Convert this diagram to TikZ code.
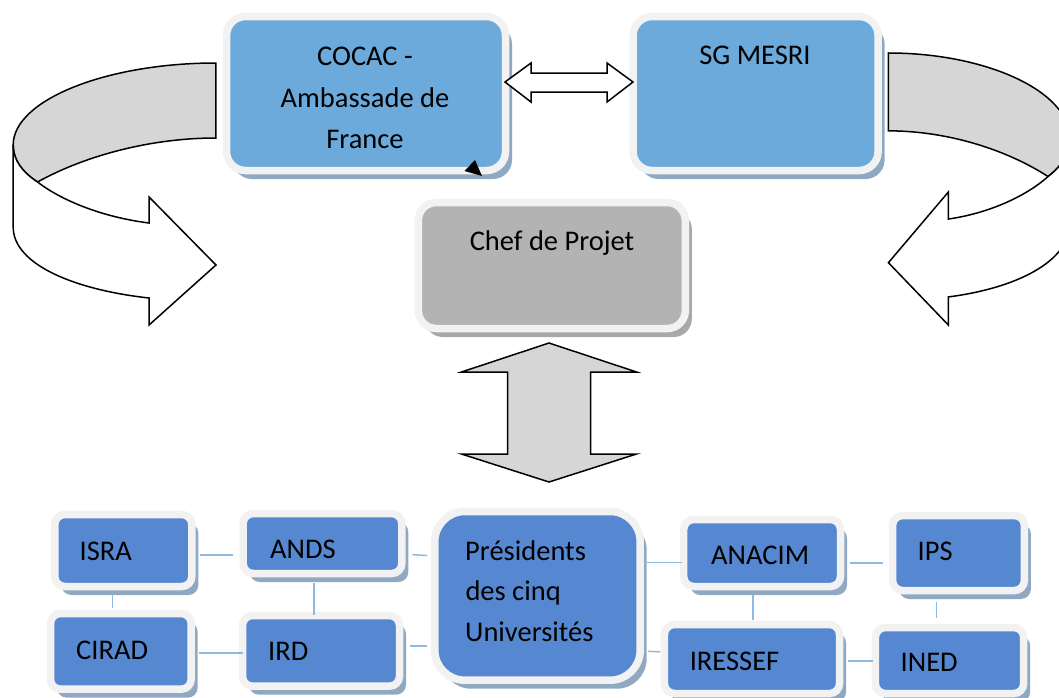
\documentclass[tikz,border=0pt]{standalone}
\usepackage{fontspec}
\setmainfont{Carlito}
\usetikzlibrary{shadows}
\definecolor{topblue}{RGB}{107,170,219}
\definecolor{botblue}{RGB}{85,136,208}
\definecolor{boxgray}{RGB}{179,179,179}
\definecolor{bordergray}{RGB}{242,242,242}
\definecolor{shadowblue}{RGB}{143,169,195}
\definecolor{shadowgray}{RGB}{168,168,168}
\definecolor{connblue}{RGB}{141,185,226}
\definecolor{arrowgray}{RGB}{214,214,214}
\newcommand{\CurvArrowPaths}{%
  \filldraw[bandshape] (213,63) .. controls (105,63) and (13,100) .. (13,145)
    .. controls (13,160) and (22,172) .. (37,182)
    .. controls (85,155) and (150,138) .. (213,138) -- cycle;
  \filldraw[whiteshape] (13,145) -- (13,227)
    .. controls (13,265) and (75,290) .. (147,298) -- (147,325) -- (213,265)
    -- (147,197) -- (147,223)
    .. controls (100,217) and (60,200) .. (37,182)
    .. controls (22,172) and (13,160) .. (13,145) -- cycle;
}
\begin{document}
\begin{tikzpicture}[x=1pt,y=-1pt,
  every node/.style={font=\fontsize{28.5}{34}\selectfont},
  bx/.style={rectangle, draw=bordergray, line width=7.5pt, inner sep=0pt, outer sep=0pt},
  topbox/.style={bx, fill=topblue, rounded corners=19pt,
    drop shadow={shadow xshift=6.5pt, shadow yshift=-8.5pt, fill=shadowblue, opacity=1}},
  graybox/.style={bx, fill=boxgray, rounded corners=18pt,
    drop shadow={shadow xshift=6.5pt, shadow yshift=-8.5pt, fill=shadowgray, opacity=1}},
  botbox/.style={bx, fill=botblue, rounded corners=10pt,
    drop shadow={shadow xshift=6.5pt, shadow yshift=-8.5pt, fill=shadowblue, opacity=1}},
  txt/.style={inner sep=0pt, text=black},
  conn/.style={draw=connblue, line width=1.5pt},
  bandshape/.style={fill=arrowgray, draw=black, line width=1.5pt},
  whiteshape/.style={fill=white, draw=black, line width=1.5pt},
  blockarrow/.style={draw=black, line width=1.5pt},
]
\useasboundingbox (0,0) rectangle (1059,697);
\clip (0,0) rectangle (1059,697);

% curved arrows
\begin{scope}[xscale=1.014]
  \CurvArrowPaths
\end{scope}
\begin{scope}[xshift=1081.6pt, yshift=12.4pt, xscale=-0.907, yscale=1.038]
  \CurvArrowPaths
\end{scope}

% top boxes
\node[topbox, minimum width=279pt, minimum height=154pt] (cocac) at (366,93.5) {};
\node[topbox, minimum width=245pt, minimum height=154pt] (sgmesri) at (755.6,93.5) {};
\node[graybox, minimum width=267pt, minimum height=126pt] (chef) at (551.8,265.5) {};

\node[txt, anchor=base] (cocac-1) at (365,65) {COCAC -};
\node[txt, anchor=base] (cocac-2) at (365,107) {Ambassade de};
\node[txt, anchor=base] (cocac-3) at (365,148) {France};
\node[txt, anchor=base] (sgmesri-t) at (755,64) {SG MESRI};
\node[txt, anchor=base] (chef-t) at (552,250) {Chef de Projet};

% small black triangle
\fill[black] (475,160) -- (464.5,171) -- (482,176) -- cycle;

% horizontal double arrow
\filldraw[blockarrow, fill=white] (505,82) -- (531,63) -- (531,73) -- (607,73) -- (607,63)
  -- (633,82) -- (607,102) -- (607,92) -- (531,92) -- (531,102) -- cycle;

% vertical double arrow
\filldraw[blockarrow, fill=arrowgray] (549,343) -- (636.5,372) -- (590.5,372) -- (590.5,454)
  -- (636.5,454) -- (549,482) -- (461.5,454) -- (507.5,454) -- (507.5,372) -- (461.5,372) -- cycle;

% bottom boxes
\node[botbox, minimum width=137pt, minimum height=72pt] (isra) at (123.3,550.5) {};
\node[botbox, minimum width=158.6pt, minimum height=60pt] (ands) at (322.5,543.5) {};
\node[botbox, minimum width=140.7pt, minimum height=75.7pt] (cirad) at (120.85,651.35) {};
\node[botbox, minimum width=157pt, minimum height=70.7pt] (ird) at (321,650.85) {};
\node[botbox, rounded corners=30pt, minimum width=205.4pt, minimum height=168.7pt] (pres) at (537.5,595.85) {};
\node[botbox, minimum width=156.8pt, minimum height=67pt] (anacim) at (762.1,553) {};
\node[botbox, minimum width=131.8pt, minimum height=75pt] (ips) at (958.5,553) {};
\node[botbox, minimum width=175.1pt, minimum height=69pt] (iressef) at (752,659) {};
\node[botbox, minimum width=148.3pt, minimum height=66pt] (ined) at (949.55,660.5) {};

\node[txt, anchor=base west] (isra-t) at (79.5,560) {ISRA};
\node[txt, anchor=base west] (ands-t) at (270,558) {ANDS};
\node[txt, anchor=base west] (cirad-t) at (76,659) {CIRAD};
\node[txt, anchor=base west] (ird-t) at (268,660) {IRD};
\node[txt, anchor=base west] (pres-1) at (465,560) {Présidents};
\node[txt, anchor=base west] (pres-2) at (465.3,600) {des cinq};
\node[txt, anchor=base west] (pres-3) at (465,641.5) {Universités};
\node[txt, anchor=base west] (anacim-t) at (711,564) {ANACIM};
\node[txt, anchor=base west] (ips-t) at (917.5,560) {IPS};
\node[txt, anchor=base west] (iressef-t) at (689.6,670) {IRESSEF};
\node[txt, anchor=base west] (ined-t) at (900.5,671.5) {INED};

% connectors
\draw[conn, shorten <=8.2pt, shorten >=10.5pt] (isra.east |- 0,555) -- (ands.west |- 0,555);
\draw[conn, shorten <=10.6pt, shorten >=7.8pt] (ands.east |- 0,554) -- (pres.west |- 0,556);
\draw[conn, shorten <=8.5pt, shorten >=5.5pt] (isra.south -| 112.7,0) -- (cirad.north -| 112.7,0);
\draw[conn, shorten <=9.5pt, shorten >=0.5pt] (ands.south -| 314,0) -- (ird.north -| 314,0);
\draw[conn, shorten <=8.1pt, shorten >=0pt] (cirad.east |- 0,653) -- (ird.west |- 0,653);
\draw[conn, shorten <=10.5pt, shorten >=7.8pt] (ird.east |- 0,646) -- (pres.west |- 0,646);
\draw[conn, shorten <=6.4pt, shorten >=2.2pt] (pres.east |- 0,562.5) -- (anacim.west |- 0,562.5);
\draw[conn, shorten <=9pt, shorten >=9.3pt] (anacim.east |- 0,563) -- (ips.west |- 0,563);
\draw[conn, shorten <=8.5pt, shorten >=4.5pt] (anacim.south -| 753,0) -- (iressef.north -| 753,0);
\draw[conn, shorten <=11.5pt, shorten >=9.5pt] (ips.south -| 936.7,0) -- (ined.north -| 936.7,0);
\draw[conn, shorten <=7.8pt, shorten >=4.4pt] (pres.east |- 0,651) -- (iressef.west |- 0,652);
\draw[conn, shorten <=8.3pt, shorten >=2.4pt] (iressef.east |- 0,661) -- (ined.west |- 0,661);
\end{tikzpicture}
\end{document}
